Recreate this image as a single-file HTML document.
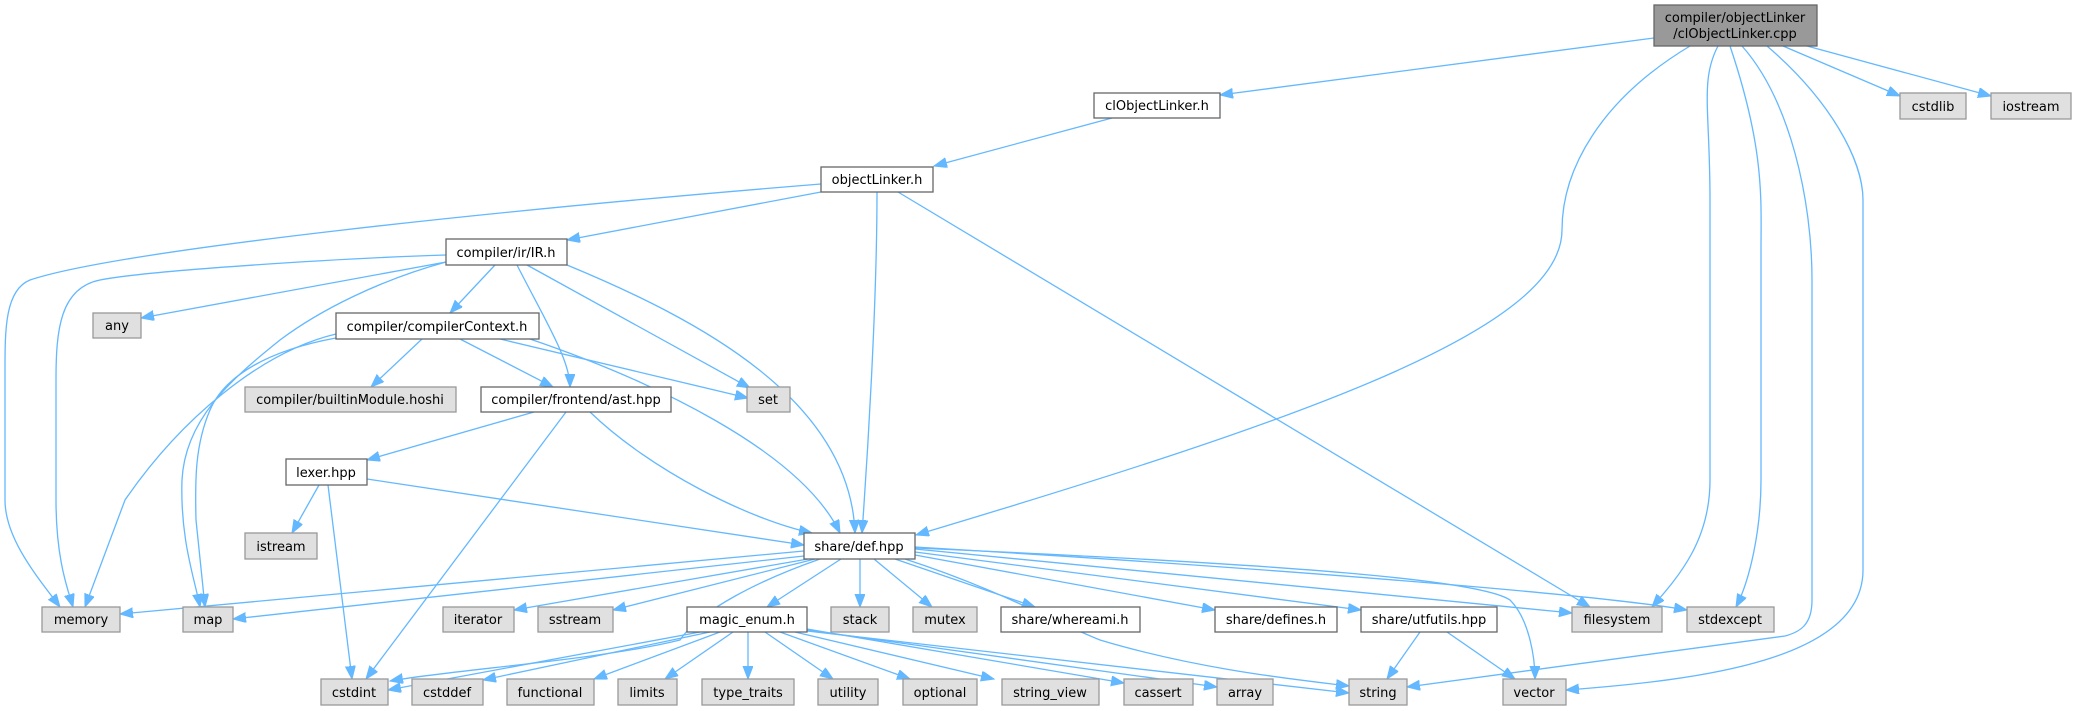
<!DOCTYPE html>
<html><head><meta charset="utf-8"><style>
html,body{margin:0;padding:0;background:#fff;}
svg{display:block;}
text{font-family:"DejaVu Sans","Liberation Sans",sans-serif;font-size:13px;fill:#000;}
</style></head><body>
<svg width="2076" height="711" viewBox="0 0 2076 711" xmlns="http://www.w3.org/2000/svg">
<defs>
<marker id="a" markerUnits="userSpaceOnUse" markerWidth="14" markerHeight="12" refX="13" refY="5" orient="auto">
<path d="M0,0 L13,5 L0,10 Z" fill="#63b8ff" stroke="#63b8ff"/>
</marker>
</defs>
<g fill="none" stroke="#63b8ff" stroke-width="1.3" marker-end="url(#a)">
<path d="M1654,38 L1220,95"/>
<path d="M1690,46 C1600,100 1562,170 1562,230 C1562,330 1300,420 916,535"/>
<path d="M1718,46 C1700,80 1710,110 1710,200 L1710,480 C1710,540 1680,575 1652,607"/>
<path d="M1730,46 C1765,150 1761,200 1761,250 L1761,480 C1761,530 1750,580 1736,607"/>
<path d="M1742,46 C1790,100 1812,200 1812,280 L1812,600 C1812,625 1800,632 1785,636 L1407,687"/>
<path d="M1767,46 C1830,100 1863,160 1863,200 L1863,570 C1863,660 1700,680 1566,690"/>
<path d="M1783,46 L1900,96"/>
<path d="M1807,46 L1991,96"/>
<path d="M1112,118 L934,166"/>
<path d="M821,184 C500,210 120,250 30,280 C5,290 5,330 5,370 L5,500 C5,540 40,580 60,607"/>
<path d="M821,192 L567,240"/>
<path d="M877,192 C877,300 868,450 862,533"/>
<path d="M898,192 L1590,607"/>
<path d="M446,255 C350,258 150,270 100,280 C60,288 56,330 56,380 L56,500 C56,560 68,590 73,607"/>
<path d="M446,262 L141,318"/>
<path d="M446,262 C380,280 320,310 280,340 C230,380 185,420 182,480 C180,540 195,580 200,607"/>
<path d="M495,265 L450,313"/>
<path d="M517,265 C545,320 570,360 570,387"/>
<path d="M527,265 L750,388"/>
<path d="M567,265 C700,320 850,400 855,533"/>
<path d="M422,339 L371,387"/>
<path d="M460,339 L553,387"/>
<path d="M500,339 L748,398"/>
<path d="M530,339 C650,380 800,450 840,533"/>
<path d="M336,334 C260,352 180,420 125,500 L85,607"/>
<path d="M336,338 C270,350 225,375 210,410 C195,445 195,480 196,520 L205,607"/>
<path d="M534,412 L367,460"/>
<path d="M566,412 L366,679"/>
<path d="M590,412 C650,470 750,520 812,533"/>
<path d="M319,485 L292,533"/>
<path d="M328,485 L352,679"/>
<path d="M367,479 L804,545"/>
<path d="M804,551 L120,614"/>
<path d="M804,556 L233,619"/>
<path d="M808,559 L514,610"/>
<path d="M815,559 L613,610"/>
<path d="M820,559 C760,580 700,610 680,640 C600,660 450,670 390,681"/>
<path d="M841,559 L767,607"/>
<path d="M860,559 L860,607"/>
<path d="M874,559 L932,607"/>
<path d="M895,559 L1035,607"/>
<path d="M915,555 L1215,610"/>
<path d="M915,552 L1361,610"/>
<path d="M905,559 C1000,590 1050,620 1100,640 C1200,670 1300,680 1349,686"/>
<path d="M915,549 L1572,613"/>
<path d="M915,547 C1300,570 1600,595 1687,610"/>
<path d="M915,548 C1300,565 1480,580 1510,600 C1530,620 1535,660 1535,679"/>
<path d="M700,632 L388,690"/>
<path d="M710,632 L483,680"/>
<path d="M720,632 L594,679"/>
<path d="M733,632 L665,679"/>
<path d="M748,632 L748,679"/>
<path d="M765,632 L833,679"/>
<path d="M780,632 L910,679"/>
<path d="M795,632 L994,679"/>
<path d="M807,629 L1124,683"/>
<path d="M807,630 L1217,687"/>
<path d="M807,631 L1349,693"/>
<path d="M1420,632 L1387,679"/>
<path d="M1447,632 L1515,679"/>
</g>
<g stroke-width="1.3">
<rect x="1654" y="5" width="163" height="41" fill="#999" stroke="#666"/>
<g fill="#fff" stroke="#666">
<rect x="1094" y="93" width="126" height="25"/>
<rect x="821" y="167" width="112" height="25"/>
<rect x="446" y="239" width="121" height="26"/>
<rect x="336" y="313" width="203" height="26"/>
<rect x="481" y="387" width="190" height="25"/>
<rect x="286" y="459" width="81" height="26"/>
<rect x="804" y="533" width="111" height="26"/>
<rect x="687" y="607" width="120" height="25"/>
<rect x="1001" y="607" width="139" height="25"/>
<rect x="1215" y="607" width="122" height="25"/>
<rect x="1361" y="607" width="136" height="25"/>
</g>
<g fill="#e0e0e0" stroke="#999">
<rect x="1900" y="93" width="66" height="26"/>
<rect x="1991" y="93" width="80" height="26"/>
<rect x="93" y="313" width="48" height="25"/>
<rect x="245" y="387" width="211" height="25"/>
<rect x="747" y="387" width="43" height="25"/>
<rect x="245" y="533" width="72" height="26"/>
<rect x="42" y="607" width="78" height="25"/>
<rect x="183" y="607" width="50" height="25"/>
<rect x="443" y="607" width="71" height="25"/>
<rect x="538" y="607" width="75" height="25"/>
<rect x="831" y="607" width="58" height="25"/>
<rect x="913" y="607" width="64" height="25"/>
<rect x="1572" y="607" width="90" height="25"/>
<rect x="1687" y="607" width="87" height="25"/>
<rect x="321" y="679" width="67" height="26"/>
<rect x="412" y="679" width="71" height="26"/>
<rect x="507" y="679" width="87" height="26"/>
<rect x="618" y="679" width="59" height="26"/>
<rect x="702" y="679" width="92" height="26"/>
<rect x="818" y="679" width="60" height="26"/>
<rect x="903" y="679" width="74" height="26"/>
<rect x="1002" y="679" width="97" height="26"/>
<rect x="1124" y="679" width="69" height="26"/>
<rect x="1217" y="679" width="56" height="26"/>
<rect x="1349" y="679" width="58" height="26"/>
<rect x="1503" y="679" width="63" height="26"/>
</g>
</g>
<g text-anchor="middle">
<text x="1735" y="22">compiler/objectLinker</text>
<text x="1735" y="38">/clObjectLinker.cpp</text>
<text x="1157" y="110">clObjectLinker.h</text>
<text x="877" y="184">objectLinker.h</text>
<text x="506" y="257">compiler/ir/IR.h</text>
<text x="437" y="331">compiler/compilerContext.h</text>
<text x="576" y="404">compiler/frontend/ast.hpp</text>
<text x="326" y="477">lexer.hpp</text>
<text x="859" y="551">share/def.hpp</text>
<text x="747" y="624">magic_enum.h</text>
<text x="1070" y="624">share/whereami.h</text>
<text x="1276" y="624">share/defines.h</text>
<text x="1429" y="624">share/utfutils.hpp</text>
<text x="1933" y="111">cstdlib</text>
<text x="2031" y="111">iostream</text>
<text x="117" y="330">any</text>
<text x="350" y="404">compiler/builtinModule.hoshi</text>
<text x="768" y="404">set</text>
<text x="281" y="551">istream</text>
<text x="81" y="624">memory</text>
<text x="208" y="624">map</text>
<text x="478" y="624">iterator</text>
<text x="575" y="624">sstream</text>
<text x="860" y="624">stack</text>
<text x="945" y="624">mutex</text>
<text x="1617" y="624">filesystem</text>
<text x="1730" y="624">stdexcept</text>
<text x="354" y="697">cstdint</text>
<text x="447" y="697">cstddef</text>
<text x="550" y="697">functional</text>
<text x="647" y="697">limits</text>
<text x="748" y="697">type_traits</text>
<text x="848" y="697">utility</text>
<text x="940" y="697">optional</text>
<text x="1050" y="697">string_view</text>
<text x="1158" y="697">cassert</text>
<text x="1245" y="697">array</text>
<text x="1378" y="697">string</text>
<text x="1534" y="697">vector</text>
</g>
</svg>
</body></html>
